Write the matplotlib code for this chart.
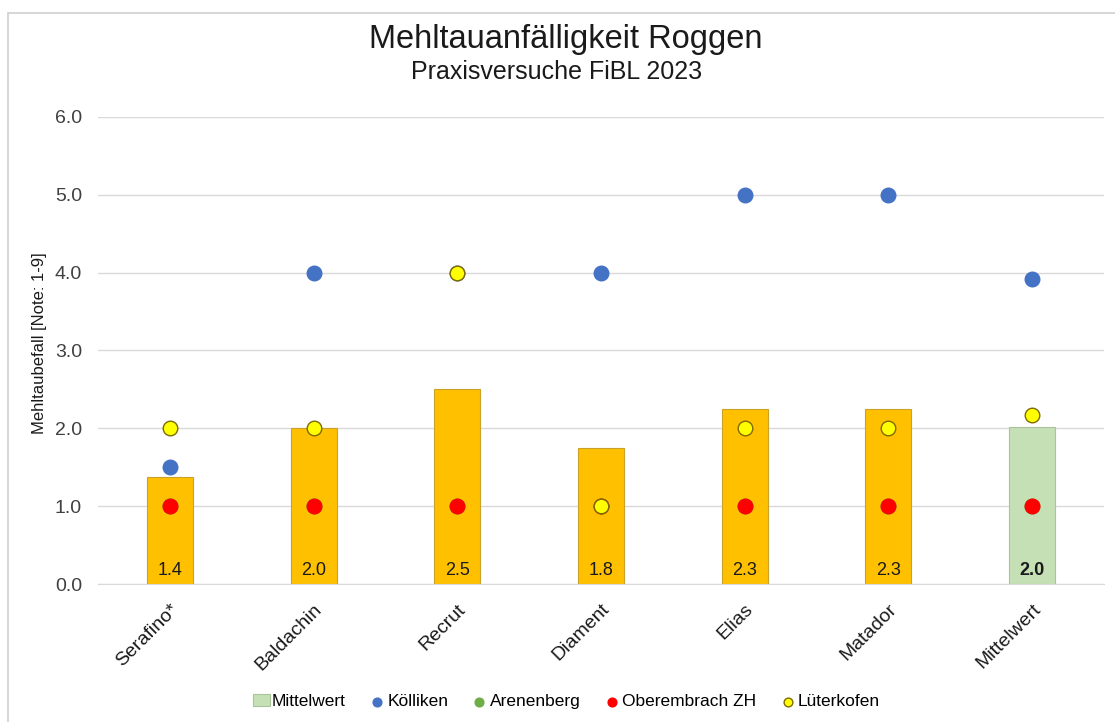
import matplotlib
matplotlib.use('Agg')
import matplotlib.pyplot as plt
import numpy as np
from matplotlib.patches import Rectangle

plt.rcParams['font.family'] = ['Liberation Sans', 'DejaVu Sans']

# data
sorten = ['Serafino*', 'Baldachin', 'Recrut', 'Diament', 'Elias', 'Matador', 'Mittelwert']
mittel = [1.375, 2.0, 2.5, 1.75, 2.25, 2.25, 2.02]
bar_labels = ['1.4', '2.0', '2.5', '1.8', '2.3', '2.3', '2.0']
koelliken = [1.5, 4.0, 4.0, 4.0, 5.0, 5.0, 3.92]
arenenberg = [1.0, 1.0, 1.0, 1.0, 1.0, 1.0, 1.0]
oberembrach = [1.0, 1.0, 1.0, 1.0, 1.0, 1.0, 1.0]
lueterkofen = [2.0, 2.0, 4.0, 1.0, 2.0, 2.0, 2.17]
yticks = [0.0, 1.0, 2.0, 3.0, 4.0, 5.0, 6.0]

fig = plt.figure(figsize=(11.15, 7.22), dpi=100)
ax = fig.add_axes([0.0879, 0.1911, 0.902, 0.647])

# frame around the chart
fig.patches.append(Rectangle((8 / 1115, -0.1), 1.1, (722 - 13) / 722 + 0.1,
                             transform=fig.transFigure, fill=False,
                             edgecolor='#D0D0D0', linewidth=1.2))

x = np.arange(len(sorten))
ax.bar(x[:-1], mittel[:-1], width=0.32, color='#FFC000', edgecolor='#C9A227',
       linewidth=0.8, zorder=2)
ax.bar(x[-1:], mittel[-1:], width=0.32, color='#C5E0B4', edgecolor='#A9C49A',
       linewidth=0.8, zorder=2, label='Mittelwert')

for i, lab in enumerate(bar_labels):
    ax.text(x[i], 0.17, lab, ha='center', va='center', fontsize=13, color='#1a1a1a',
            fontweight='bold' if i == len(sorten) - 1 else 'normal', zorder=5)

ax.scatter(x, koelliken, s=110, color='#4472C4', label='Kölliken', zorder=3)
ax.scatter(x, arenenberg, s=110, color='#70AD47', label='Arenenberg', zorder=3)
ax.scatter(x, oberembrach, s=110, color='#FF0000', label='Oberembrach ZH', zorder=3)
ax.scatter(x, lueterkofen, s=110, color='#FFFF00', edgecolor='#7F6A00',
           linewidth=1.0, label='Lüterkofen', zorder=4)

ax.set_xlim(-0.5, len(sorten) - 0.5)
ax.set_ylim(0, 6)
ax.set_yticks(yticks)
ax.set_yticklabels(['%.1f' % v for v in yticks], fontsize=14)
ax.yaxis.grid(True, color='#D9D9D9', linewidth=1.0, zorder=0)
ax.set_axisbelow(True)
for s in ['top', 'right', 'left']:
    ax.spines[s].set_visible(False)
ax.spines['bottom'].set_color('#D9D9D9')
ax.tick_params(axis='both', length=0, colors='#404040')
ax.tick_params(axis='y', pad=11.5)

ax.set_xticks(x)
ax.set_xticklabels(sorten, rotation=45, ha='right', rotation_mode='anchor',
                   fontsize=14, color='#1a1a1a')
ax.tick_params(axis='x', pad=12)

ax.set_ylabel('Mehltaubefall [Note: 1-9]', fontsize=12, color='#1a1a1a')
ax.yaxis.set_label_coords(-0.051, 0.516)

fig.text(0.507, 0.945, 'Mehltauanfälligkeit Roggen', ha='center', va='center',
         fontsize=23.5, color='#1a1a1a')
fig.text(0.4996, 0.900, 'Praxisversuche FiBL 2023', ha='center', va='center',
         fontsize=18, color='#1a1a1a')

handles, labels = ax.get_legend_handles_labels()
order = [labels.index(n) for n in ['Mittelwert', 'Kölliken', 'Arenenberg', 'Oberembrach ZH', 'Lüterkofen']]
leg = fig.legend([handles[i] for i in order], [labels[i] for i in order],
                 loc='center', bbox_to_anchor=(0.508, 0.028), ncol=5, frameon=False,
                 fontsize=12.5, handletextpad=0.1, columnspacing=1.3,
                 handlelength=1.0, markerscale=0.6)

fig.savefig('out.png', dpi=100)
